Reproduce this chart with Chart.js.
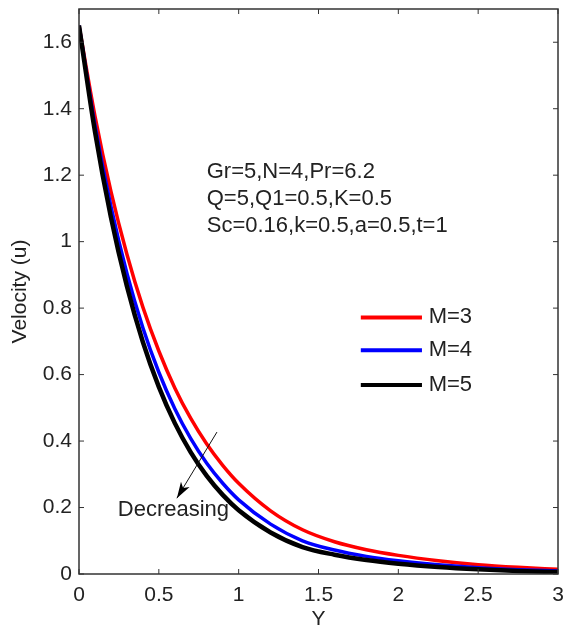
<!DOCTYPE html>
<html>
<head>
<meta charset="utf-8">
<script src="https://cdn.jsdelivr.net/npm/chart.js@4"></script>
<style>
  body { margin: 0; background: #fff; }
  #wrap { width: 563px; height: 632px; }
</style>
</head>
<body>
<div id="wrap"><canvas id="myChart" width="563" height="632"></canvas></div>
<script>
// values
const yPos = [0, 0.1, 0.2, 0.3, 0.4, 0.5, 0.6, 0.7, 0.8, 0.9, 1.0, 1.2, 1.4, 1.6, 1.8, 2.0, 2.25, 2.5, 2.75, 3.0];
const velM3 = [1.65, 1.378, 1.151, 0.962, 0.803, 0.671, 0.560, 0.468, 0.391, 0.327, 0.273, 0.190, 0.133, 0.097, 0.073, 0.056, 0.040, 0.028, 0.020, 0.014];
const velM4 = [1.65, 1.351, 1.106, 0.905, 0.741, 0.607, 0.497, 0.407, 0.333, 0.273, 0.223, 0.150, 0.100, 0.072, 0.053, 0.040, 0.028, 0.019, 0.013, 0.009];
const velM5 = [1.65, 1.331, 1.073, 0.866, 0.698, 0.563, 0.454, 0.366, 0.295, 0.238, 0.192, 0.125, 0.081, 0.058, 0.042, 0.031, 0.021, 0.014, 0.009, 0.006];
const seriesNames = ['M=3', 'M=4', 'M=5'];
const xTicks = [0, 0.5, 1, 1.5, 2, 2.5, 3];
const yTicks = [0, 0.2, 0.4, 0.6, 0.8, 1, 1.2, 1.4, 1.6];
const paramText = ['Gr=5,N=4,Pr=6.2', 'Q=5,Q1=0.5,K=0.5', 'Sc=0.16,k=0.5,a=0.5,t=1'];

const font = '"Liberation Sans", Arial, Helvetica, sans-serif';
const frameColor = '#333';

function pts(vals){
   return yPos.map((x, i) => ({x: x, y: vals[i]}));
}

// box, inward ticks, legend, text and arrow
const decorPlugin = {
  id: 'decor',
  afterDatasetsDraw(chart){
    const c = chart.ctx;
    const a = chart.chartArea;
    const sx = chart.scales.x, sy = chart.scales.y;
    c.save();
    c.strokeStyle = frameColor;
    c.lineWidth = 1.5;
    c.strokeRect(a.left, a.top, a.right - a.left, a.bottom - a.top);
    c.lineWidth = 1;
    xTicks.forEach(t => {
      const px = sx.getPixelForValue(t);
      c.beginPath();
      c.moveTo(px, a.bottom); c.lineTo(px, a.bottom - 5);
      c.moveTo(px, a.top); c.lineTo(px, a.top + 5);
      c.stroke();
    });
    yTicks.forEach(t => {
      const py = sy.getPixelForValue(t);
      c.beginPath();
      c.moveTo(a.left, py); c.lineTo(a.left + 5, py);
      c.moveTo(a.right, py); c.lineTo(a.right - 5, py);
      c.stroke();
    });

    // parameter text
    c.fillStyle = '#222';
    c.font = '22px ' + font;
    c.textBaseline = 'middle';
    c.textAlign = 'left';
    const txtY = [1.211, 1.13, 1.047];
    paramText.forEach((s, i) => {
      c.fillText(s, sx.getPixelForValue(0.80), sy.getPixelForValue(txtY[i]));
    });

    // legend
    const legY = [0.772, 0.673, 0.569];
    chart.data.datasets.forEach((ds, i) => {
      const py = sy.getPixelForValue(legY[i]);
      c.strokeStyle = ds.borderColor;
      c.lineWidth = 4;
      c.beginPath();
      c.moveTo(sx.getPixelForValue(1.765), py);
      c.lineTo(sx.getPixelForValue(2.148), py);
      c.stroke();
      c.fillStyle = '#222';
      c.fillText(ds.label, sx.getPixelForValue(2.19), py);
    });

    // Decreasing arrow
    const x0 = sx.getPixelForValue(0.864), y0 = sy.getPixelForValue(0.427);
    const x1 = sx.getPixelForValue(0.613), y1 = sy.getPixelForValue(0.228);
    c.strokeStyle = '#111';
    c.lineWidth = 1;
    c.beginPath(); c.moveTo(x0, y0); c.lineTo(x1, y1); c.stroke();
    const ang = Math.atan2(y1 - y0, x1 - x0);
    c.fillStyle = '#000';
    c.beginPath();
    c.moveTo(x1, y1);
    c.lineTo(x1 - 17 * Math.cos(ang - 0.3), y1 - 17 * Math.sin(ang - 0.3));
    c.lineTo(x1 - 12 * Math.cos(ang), y1 - 12 * Math.sin(ang));
    c.lineTo(x1 - 17 * Math.cos(ang + 0.3), y1 - 17 * Math.sin(ang + 0.3));
    c.closePath();
    c.fill();
    c.fillStyle = '#222';
    c.fillText('Decreasing', sx.getPixelForValue(0.243), sy.getPixelForValue(0.192));
    c.restore();
  }
};

const ctx = document.getElementById('myChart');
new Chart(ctx, {
  type: 'line',
  data: {
    datasets: [
      { label: seriesNames[0], data: pts(velM3), borderColor: '#ff0000', borderWidth: 3.5, order: 3 },
      { label: seriesNames[1], data: pts(velM4), borderColor: '#0000ff', borderWidth: 3.5, order: 2 },
      { label: seriesNames[2], data: pts(velM5), borderColor: '#000000', borderWidth: 4.5, order: 1 }
    ]
  },
  options: {
    responsive: false,
    animation: false,
    events: [],
    layout: { padding: { top: 9, right: 5, left: 0, bottom: 0 } },
    elements: {
      point: { radius: 0 },
      line: { fill: false, cubicInterpolationMode: 'monotone' }
    },
    plugins: {
      legend: { display: false },
      tooltip: { enabled: false }
    },
    scales: {
      x: {
        type: 'linear',
        min: 0, max: 3,
        grid: { display: false, drawTicks: false },
        border: { display: false },
        afterBuildTicks: s => { s.ticks = xTicks.map(v => ({value: v})); },
        afterFit: s => { s.height = 58; s.paddingLeft = 0; s.paddingRight = 0; },
        ticks: {
          color: '#222', padding: 9,
          font: { family: font, size: 21 },
          maxRotation: 0,
          callback: v => String(v)
        },
        title: {
          display: true, text: 'Y', color: '#222',
          font: { family: font, size: 21 },
          padding: { top: 0, bottom: 0 }
        }
      },
      y: {
        min: 0, max: 1.7,
        grid: { display: false, drawTicks: false },
        border: { display: false },
        afterBuildTicks: s => { s.ticks = yTicks.map(v => ({value: v})); },
        afterFit: s => { s.width = 79; s.paddingTop = 0; s.paddingBottom = 0; },
        ticks: {
          color: '#222', padding: 7,
          font: { family: font, size: 21 },
          callback: v => String(Math.round(v * 10) / 10)
        },
        title: {
          display: true, text: 'Velocity (u)', color: '#222',
          font: { family: font, size: 21 },
          padding: { top: 8, bottom: 0 }
        }
      }
    }
  },
  plugins: [decorPlugin]
});
</script>
</body>
</html>
